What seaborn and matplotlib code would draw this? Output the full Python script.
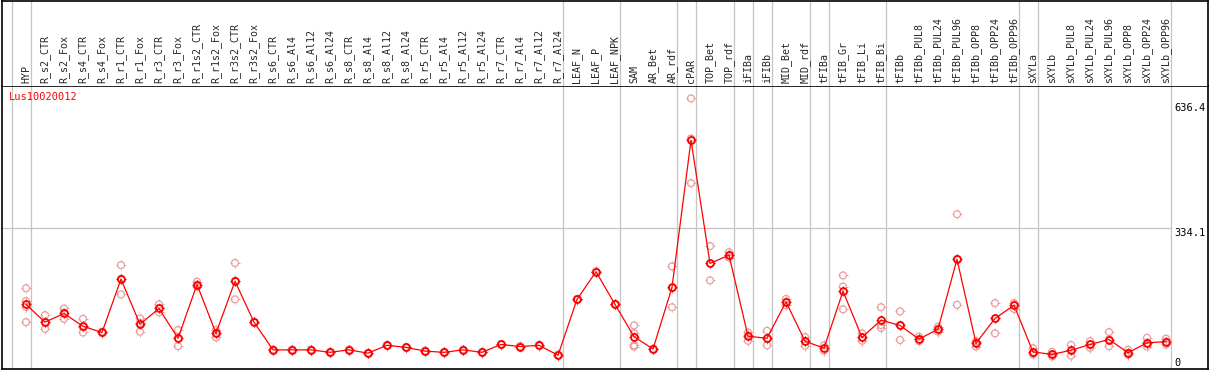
import matplotlib
matplotlib.use("Agg")
import matplotlib.pyplot as plt
import matplotlib.transforms as mtransforms
from matplotlib.path import Path
import seaborn as sns
import pandas as pd

# ---- data ------------------------------------------------------------------
gene = "Lus10020012"

tissues = [
    "HYP", "R_s2_CTR", "R_s2_Fox", "R_s4_CTR", "R_s4_Fox", "R_r1_CTR", "R_r1_Fox",
    "R_r3_CTR", "R_r3_Fox", "R_r1s2_CTR", "R_r1s2_Fox", "R_r3s2_CTR", "R_r3s2_Fox",
    "R_s6_CTR", "R_s6_Al4", "R_s6_Al12", "R_s6_Al24", "R_s8_CTR", "R_s8_Al4",
    "R_s8_Al12", "R_s8_Al24", "R_r5_CTR", "R_r5_Al4", "R_r5_Al12", "R_r5_Al24",
    "R_r7_CTR", "R_r7_Al4", "R_r7_Al12", "R_r7_Al24", "LEAF_N", "LEAF_P", "LEAF_NPK",
    "SAM", "AR_Bet", "AR_rdf", "cPAR", "TOP_Bet", "TOP_rdf", "iFIBa", "iFIBb",
    "MID_Bet", "MID_rdf", "tFIBa", "tFIB_Gr", "tFIB_Li", "tFIB_Bi", "tFIBb",
    "tFIBb_PUL8", "tFIBb_PUL24", "tFIBb_PUL96", "tFIBb_OPP8", "tFIBb_OPP24",
    "tFIBb_OPP96", "sXYLa", "sXYLb", "sXYLb_PUL8", "sXYLb_PUL24", "sXYLb_PUL96",
    "sXYLb_OPP8", "sXYLb_OPP24", "sXYLb_OPP96",
]

mean_expr = [
    150, 107, 128, 97, 82, 211, 102, 140, 68, 198, 80, 206, 107,
    40, 40, 40, 34, 40, 32, 51, 46, 37, 34, 40, 34, 53, 48, 51, 27,
    162, 229, 150, 72, 42, 191, 547, 249, 269, 73, 68, 156, 61,
    44, 182, 70, 112, 99, 66, 90, 259, 56, 116, 148,
    35, 29, 39, 53, 65, 33, 57, 60,
]

replicates = [
    [189, 158, 144, 107], [124, 107, 91], [140, 130, 115], [115, 95, 82], [84, 82, 81],
    [245, 212, 174], [116, 105, 84], [150, 141, 131], [88, 68, 49], [205, 198, 193],
    [88, 81, 70], [250, 207, 162], [108, 107, 106],
    [41, 40, 39], [41, 40, 39], [41, 40, 39], [35, 34, 33], [41, 40, 39], [33, 32, 31],
    [52, 51, 50], [47, 46, 45], [38, 37, 36], [35, 34, 33], [41, 40, 39], [35, 34, 33],
    [54, 53, 52], [49, 48, 47], [52, 51, 50], [28, 27, 26],
    [163, 162, 161], [230, 229, 228], [151, 150, 149], [99, 80, 51, 48], [43, 42, 41],
    [242, 189, 143], [648, 551, 443], [291, 249, 208], [276, 269, 263], [82, 75, 62],
    [86, 67, 51], [163, 156, 148], [71, 61, 50], [51, 43, 38], [220, 193, 138],
    [80, 70, 62], [143, 100, 93], [133, 100, 64], [72, 66, 61], [96, 90, 84],
    [368, 260, 149], [61, 58, 48], [153, 116, 80], [153, 148, 139],
    [44, 32, 29], [35, 29, 24], [52, 39, 26], [61, 53, 45], [83, 65, 49],
    [40, 33, 28], [69, 57, 48], [67, 60, 53],
]

# separators are drawn after these tissues (plus one before the first)
group_ends = ["HYP", "R_r7_Al24", "LEAF_NPK", "AR_rdf", "cPAR", "TOP_rdf", "iFIBa",
              "iFIBb", "MID_rdf", "tFIBa", "tFIB_Bi", "tFIBb_OPP96", "sXYLa", "sXYLb_OPP96"]

y_ticks = [0, 334.1, 636.4]
y_tick_labels = ["0", "334.1", "636.4"]

df_mean = pd.DataFrame({"tissue": tissues, "expr": mean_expr})
df_rep = pd.DataFrame(
    [(t, v) for t, vals in zip(tissues, replicates) for v in vals],
    columns=["tissue", "expr"],
)

# ---- style -------------------------------------------------------------------
sns.set_style("white")
plt.rcParams["font.family"] = ["DejaVu Sans Mono"]

red = "#ff0000"
pink = "#eb9c9c"
grey = "#c4c4c4"

# four little ticks around each circle, like the original markers
tick_marks = Path.make_compound_path(*[
    Path([(dx, dy), (dx * 1.4, dy * 1.4)], [Path.MOVETO, Path.LINETO])
    for dx, dy in [(1, 0), (-1, 0), (0, 1), (0, -1)]
])
circ = 5.0  # circle diameter in points

W, H = 1209, 370
fig = plt.figure(figsize=(W / 100, H / 100), dpi=100)
ax = fig.add_axes([1.5 / W, 1 / H, 1206.5 / W, 283 / H])
hdr = fig.add_axes([1.5 / W, 284 / H, 1206.5 / W, 85 / H])

xlim = (-1.289, 62.21)

# separators through header and plot
sep_pos = [-1] + [tissues.index(t) for t in group_ends]
for a in (ax, hdr):
    for p in sep_pos:
        a.axvline(p + 0.25, color=grey, lw=0.9, zorder=0)
ax.hlines(334.1, xlim[0], 60.25, color=grey, lw=0.9, zorder=0)

# replicates
sns.scatterplot(data=df_rep, x="tissue", y="expr", ax=ax, marker="o", s=circ ** 2,
                color=pink, facecolor="none", edgecolor=pink, linewidth=0.9, zorder=3)
sns.scatterplot(data=df_rep, x="tissue", y="expr", ax=ax, marker=tick_marks,
                s=(circ * 1.4) ** 2, color=pink, facecolor="none", edgecolor=pink,
                linewidth=0.7, zorder=3)

# means
sns.lineplot(data=df_mean, x="tissue", y="expr", sort=False, errorbar=None, ax=ax,
             color=red, lw=0.9, marker="o", markersize=circ,
             markerfacecolor="none", markeredgecolor=red, markeredgewidth=1.3, zorder=4)
sns.scatterplot(data=df_mean, x="tissue", y="expr", ax=ax, marker=tick_marks,
                s=(circ * 1.4) ** 2, color=red, facecolor="none", edgecolor=red,
                linewidth=0.8, zorder=5)

ax.set_xlim(*xlim)
ax.set_ylim(-6.3, 678)
ax.set_xticks([])
ax.set_yticks([])
ax.set_xlabel("")
ax.set_ylabel("")

tr = mtransforms.blended_transform_factory(ax.transAxes, ax.transData)
for v, lab in zip(y_ticks, y_tick_labels):
    ax.text(0.9725, v, lab, transform=tr, fontsize=7.5, color="black",
            va="baseline" if v == 0 else "top", ha="left")

ax.text(0.0065, 0.960, gene, transform=ax.transAxes, color=red, fontsize=7.5,
        va="center", ha="left")

# header with rotated tissue names
hdr.set_xlim(*xlim)
hdr.set_ylim(0, 1)
hdr.set_xticks([])
hdr.set_yticks([])
for i, t in enumerate(tissues):
    hdr.text(i, 0.035, t, rotation=90, ha="center", va="bottom", fontsize=7.2)
hdr.spines["bottom"].set_visible(False)

for a in (ax, hdr):
    for s in a.spines.values():
        s.set_color("black")
        s.set_linewidth(1.2)

fig.savefig("out.png", dpi=100)
